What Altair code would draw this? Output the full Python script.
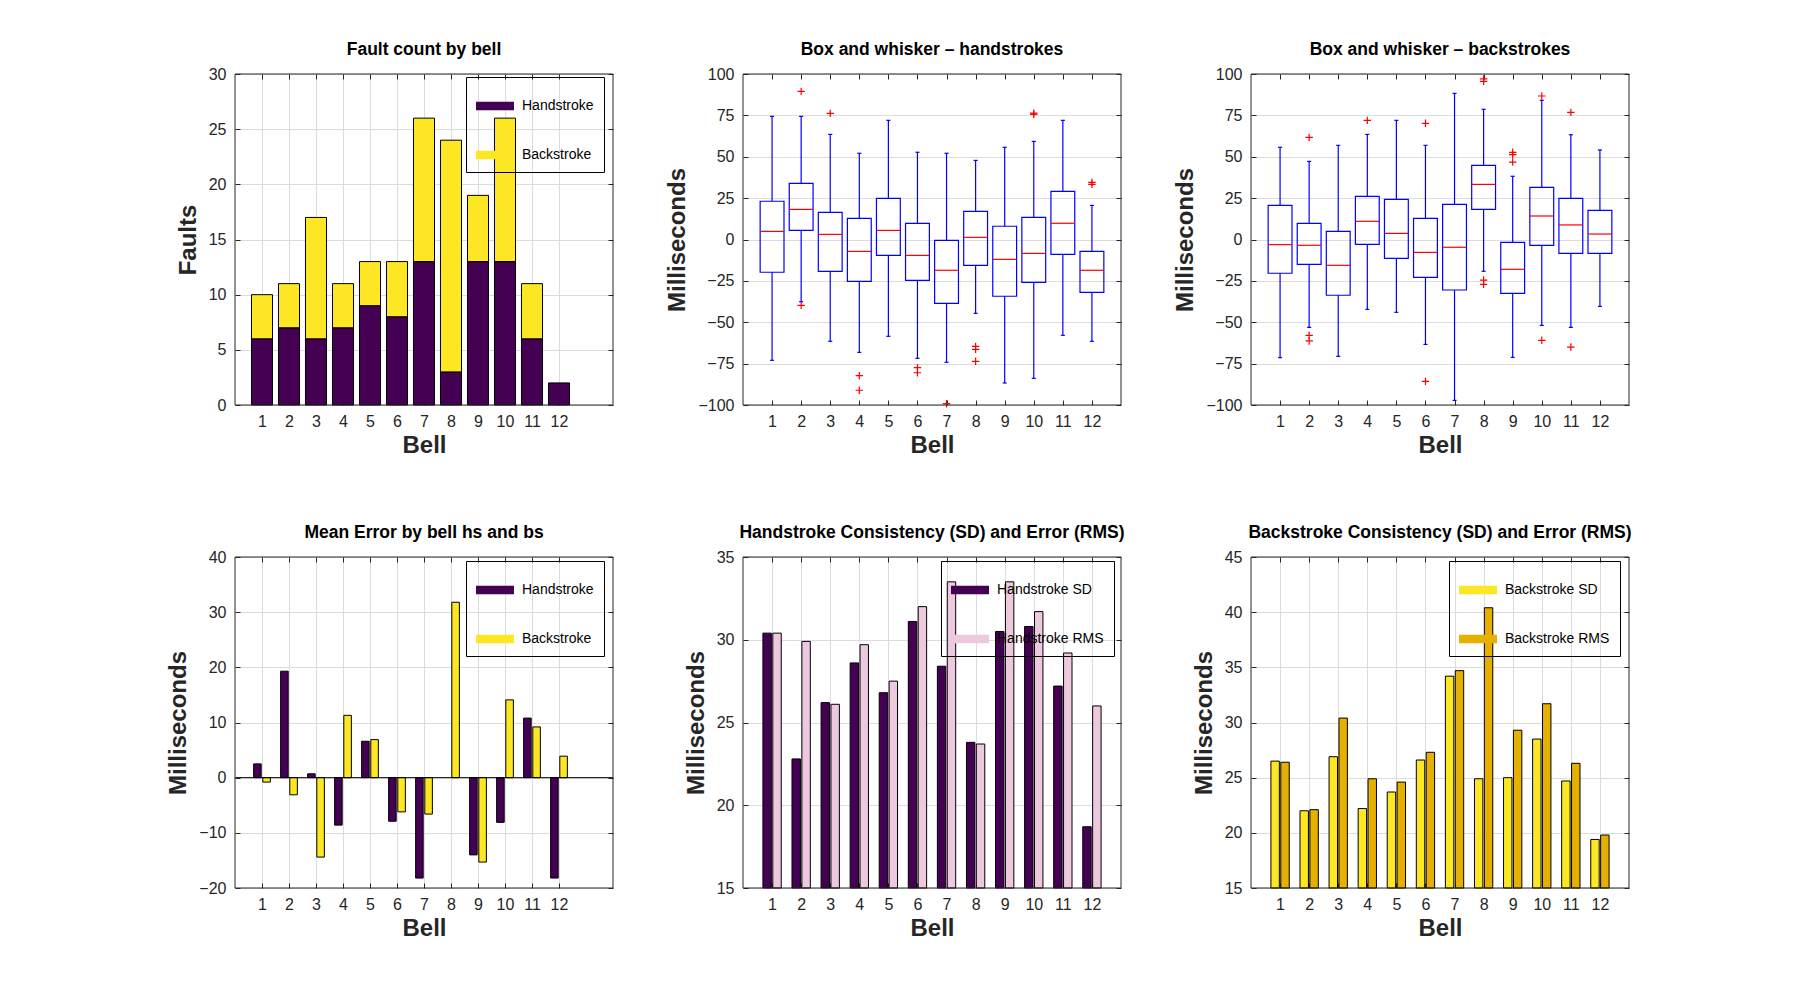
import altair as alt
import pandas as pd

FONT = "Liberation Sans"
INK = "#262626"
GRID = "#dcdcdc"
PURPLE = "#440154"
YELLOW = "#FDE725"
PINK = "#EDC9E0"
GOLD = "#E6B000"
BLUE = "#0000FF"
RED = "#FF0000"
W, H = 378, 331
SWATCH = "M-1,-0.22H1V0.22H-1Z"
CROSS = "M-1,0H1M0,-1V1"
NBSP = "\u00a0"

# ---------------- data ----------------
bells = list(range(1, 13))
bell_ticks = list(range(1, 13))

fault_hand = [6, 7, 6, 7, 9, 8, 13, 3, 13, 13, 6, 2]
fault_back = [4, 4, 11, 4, 4, 5, 13, 21, 6, 13, 5, 0]

hs_lo = [-73.0, -37.6, -61.5, -68.2, -58.5, -71.8, -74.2, -44.6, -86.7, -83.9, -57.9, -61.5]
hs_q1 = [-19.8, 5.5, -19.2, -25.3, -9.6, -24.7, -38.6, -15.6, -34.3, -25.9, -9.0, -31.9]
hs_med = [4.9, 18.2, 3.1, -7.2, 5.5, -9.6, -18.6, 1.3, -12.0, -8.4, 9.8, -18.6]
hs_q3 = [23.1, 33.9, 16.4, 12.8, 24.9, 9.8, -0.5, 17.0, 8.0, 13.4, 29.1, -7.2]
hs_hi = [74.4, 74.4, 63.5, 52.1, 72.0, 52.7, 52.1, 47.8, 55.7, 59.3, 72.0, 20.6]
hs_out_bell = [2, 2, 3, 4, 4, 6, 6, 7, 8, 8, 8, 10, 10, 12, 12]
hs_out_val = [89.5, -39.8, 76.2, -82.3, -91.1, -77.4, -80.5, -99.2, -64.6, -66.4, -73.6, 75.6, 76.3, 34.5, 33.3]

bs_lo = [-71.4, -53.1, -70.6, -42.2, -44.0, -63.4, -97.2, -19.2, -71.2, -51.9, -53.1, -40.4]
bs_q1 = [-20.4, -15.0, -33.7, -2.9, -11.4, -22.9, -30.5, 18.2, -32.5, -3.5, -8.4, -8.4]
bs_med = [-3.1, -3.5, -15.6, 11.0, 3.7, -7.8, -4.7, 33.3, -18.0, 14.2, 8.8, 3.3]
bs_q3 = [20.6, 9.8, 4.9, 26.1, 24.3, 12.8, 21.2, 44.8, -1.7, 31.5, 24.9, 17.6]
bs_hi = [55.7, 47.2, 56.9, 63.5, 72.0, 56.9, 88.3, 78.7, 38.2, 84.1, 63.3, 54.1]
bs_out_bell = [2, 2, 2, 4, 6, 6, 8, 8, 8, 8, 9, 9, 9, 10, 10, 11, 11]
bs_out_val = [61.7, -57.9, -61.3, 72.0, 70.2, -85.7, 97.0, 95.6, -24.5, -27.1, 52.7, 51.3, 46.8, 86.7, -60.9, 76.8, -65.0]

hs_mean = [2.5, 19.3, 0.7, -8.6, 6.6, -7.9, -18.2, 0.0, -14.0, -8.1, 10.8, -18.2]
bs_mean = [-0.8, -3.1, -14.4, 11.3, 6.9, -6.2, -6.6, 31.8, -15.3, 14.1, 9.2, 3.9]

hs_sd = [30.4, 22.8, 26.2, 28.6, 26.8, 31.1, 28.4, 23.8, 30.5, 30.8, 27.2, 18.7]
hs_rms = [30.4, 29.9, 26.1, 29.7, 27.5, 32.0, 33.5, 23.7, 33.5, 31.7, 29.2, 26.0]
bs_sd = [26.5, 22.0, 26.9, 22.2, 23.7, 26.6, 34.2, 24.9, 25.0, 28.5, 24.7, 19.4]
bs_rms = [26.4, 22.1, 30.4, 24.9, 24.6, 27.3, 34.7, 40.4, 29.3, 31.7, 26.3, 19.8]

# ---------------- helpers ----------------
def sc(dom):
    return alt.Scale(domain=dom, nice=False, zero=False)


def xaxis(xt, grid):
    return alt.Axis(orient="bottom", values=xt, grid=grid, format="d", ticks=True, tickSize=5,
                    offset=-5, labelPadding=8, title="Bell", titlePadding=4)


def yaxis(yt, title):
    return alt.Axis(orient="left", values=yt, grid=True, ticks=True, tickSize=5, offset=-5,
                    labelPadding=9, title=title, titlePadding=8)


def legend(lx, ly, pad_spaces):
    return alt.Legend(orient="none", legendX=lx, legendY=ly, title=None, direction="vertical",
                      strokeColor="black", padding=10, rowPadding=23, symbolType=SWATCH,
                      symbolSize=1444, symbolStrokeWidth=0, labelFont=FONT, labelFontSize=14,
                      labelColor="black", labelOffset=8,
                      labelExpr="datum.label + '%s'" % (NBSP * pad_spaces))


def frame(xdom, ydom, xt, yt):
    top = alt.Axis(orient="top", values=xt, grid=False, labels=False, domain=False, ticks=True,
                   tickSize=5, offset=-5, title=None)
    right = alt.Axis(orient="right", values=yt, grid=False, labels=False, domain=False, ticks=True,
                     tickSize=5, offset=-5, title=None)
    return alt.Chart(pd.DataFrame({"a": [0]})).mark_rect(
        fill="white", fillOpacity=0, stroke=INK, strokeWidth=1
    ).encode(
        x=alt.XDatum(xdom[0], type="quantitative", scale=sc(xdom), axis=top),
        x2=alt.datum(xdom[1]),
        y=alt.YDatum(ydom[0], type="quantitative", scale=sc(ydom), axis=right),
        y2=alt.datum(ydom[1]),
    )


def panel(layers, xdom, ydom, xt, yt, title):
    inner = alt.layer(*layers)
    return alt.layer(inner, frame(xdom, ydom, xt, yt)).resolve_axis(
        x="independent", y="independent"
    ).properties(width=W, height=H, title=title)


def grouped(h_vals, b_vals, names, colors, ydom, yt, base, half, lx, ly, title, xdom, sp):
    rows = []
    for b, hv, bv in zip(bells, h_vals, b_vals):
        rows.append({"bell": b, "series": names[0], "value": hv, "side": -1})
        rows.append({"bell": b, "series": names[1], "value": bv, "side": 1})
    df = pd.DataFrame(rows)
    xa = xaxis(bell_ticks, True)
    ya = yaxis(yt, "Milliseconds")
    bars = alt.Chart(df).transform_filter("datum.value != 0").transform_calculate(
        xc="datum.bell + datum.side * 0.17"
    ).transform_calculate(
        xl="datum.xc - %f" % half
    ).transform_calculate(
        xr="datum.xc + %f" % half
    ).mark_rect(stroke="black", strokeWidth=1).encode(
        x=alt.X("xl", type="quantitative", scale=sc(xdom), axis=xa),
        x2=alt.X2("xr"),
        y=alt.Y("value", type="quantitative", scale=sc(ydom), axis=ya),
        y2=alt.datum(base),
        color=alt.Color("series", type="nominal", scale=alt.Scale(domain=names, range=colors),
                        legend=legend(lx, ly, sp)),
    )
    layers = [bars]
    if base == 0:
        zero = alt.Chart(pd.DataFrame({"a": [0]})).mark_rule(color="black", strokeWidth=1).encode(
            y=alt.YDatum(0, type="quantitative", scale=sc(ydom), axis=ya)
        )
        layers.append(zero)
    return panel(layers, xdom, ydom, bell_ticks, yt, title)


def boxpanel(lo, q1, med, q3, hi, ob, ov, title):
    xdom = [0, 13]
    ydom = [-100, 100]
    yt = list(range(-100, 101, 25))
    xa = xaxis(bell_ticks, False)
    ya = yaxis(yt, "Milliseconds")
    df = pd.DataFrame({"bell": bells, "lo": lo, "q1": q1, "med": med, "q3": q3, "hi": hi})
    dfo = pd.DataFrame({"bell": ob, "val": ov})
    base = alt.Chart(df)
    X = lambda f: alt.X(f, type="quantitative", scale=sc(xdom), axis=xa)
    Y = lambda f: alt.Y(f, type="quantitative", scale=sc(ydom), axis=ya)
    up = base.mark_rule(color=BLUE, strokeWidth=1.2).encode(x=X("bell"), y=Y("q3"), y2=alt.Y2("hi"))
    dn = base.mark_rule(color=BLUE, strokeWidth=1.2).encode(x=X("bell"), y=Y("lo"), y2=alt.Y2("q1"))
    caps = base.transform_fold(["lo", "hi"], as_=["k", "v"]).transform_calculate(
        cl="datum.bell - 0.07"
    ).transform_calculate(cr="datum.bell + 0.07").mark_rule(color=BLUE, strokeWidth=1.2).encode(
        x=X("cl"), x2=alt.X2("cr"), y=Y("v")
    )
    boxes = base.transform_calculate(bl="datum.bell - 0.41").transform_calculate(
        br="datum.bell + 0.41"
    )
    box = boxes.mark_rect(fill="white", fillOpacity=0, stroke=BLUE, strokeWidth=1.2).encode(
        x=X("bl"), x2=alt.X2("br"), y=Y("q1"), y2=alt.Y2("q3")
    )
    md = boxes.mark_rule(color=RED, strokeWidth=1.2).encode(x=X("bl"), x2=alt.X2("br"), y=Y("med"))
    outs = alt.Chart(dfo).mark_point(shape=CROSS, size=55, color=RED, strokeWidth=1.2,
                                     filled=False, opacity=1).encode(x=X("bell"), y=Y("val"))
    return panel([up, dn, caps, box, md, outs], xdom, ydom, bell_ticks, yt, title)


# ---------------- panel 1: stacked faults ----------------
rows = []
for b, hv, bv in zip(bells, fault_hand, fault_back):
    rows.append({"bell": b, "series": "Handstroke", "lo": 0, "hi": hv})
    rows.append({"bell": b, "series": "Backstroke", "lo": hv, "hi": hv + bv})
df1 = pd.DataFrame(rows)
x1dom, y1dom = [0, 14], [0, 30]
y1t = list(range(0, 31, 5))
p1bars = alt.Chart(df1).transform_filter("datum.hi > datum.lo").transform_calculate(
    xl="datum.bell - 0.39"
).transform_calculate(xr="datum.bell + 0.39").mark_rect(stroke="black", strokeWidth=1).encode(
    x=alt.X("xl", type="quantitative", scale=sc(x1dom), axis=xaxis(bell_ticks, True)),
    x2=alt.X2("xr"),
    y=alt.Y("lo", type="quantitative", scale=sc(y1dom), axis=yaxis(y1t, "Faults")),
    y2=alt.Y2("hi"),
    color=alt.Color("series", type="nominal",
                    scale=alt.Scale(domain=["Handstroke", "Backstroke"], range=[PURPLE, YELLOW]),
                    legend=legend(231, 3, 2)),
)
p1 = panel([p1bars], x1dom, y1dom, bell_ticks, y1t, "Fault count by bell")

p2 = boxpanel(hs_lo, hs_q1, hs_med, hs_q3, hs_hi, hs_out_bell, hs_out_val,
              "Box and whisker – handstrokes")
p3 = boxpanel(bs_lo, bs_q1, bs_med, bs_q3, bs_hi, bs_out_bell, bs_out_val,
              "Box and whisker – backstrokes")

p4 = grouped(hs_mean, bs_mean, ["Handstroke", "Backstroke"], [PURPLE, YELLOW], [-20, 40],
             list(range(-20, 41, 10)), 0, 0.14, 231, 4, "Mean Error by bell hs and bs", [0, 14], 1)
p5 = grouped(hs_sd, hs_rms, ["Handstroke SD", "Handstroke RMS"], [PURPLE, PINK], [15, 35],
             list(range(15, 36, 5)), 15, 0.145, 198, 4,
             "Handstroke Consistency (SD) and Error (RMS)", [0, 13], 1)
p6 = grouped(bs_sd, bs_rms, ["Backstroke SD", "Backstroke RMS"], [YELLOW, GOLD], [15, 45],
             list(range(15, 46, 5)), 15, 0.145, 198, 4,
             "Backstroke Consistency (SD) and Error (RMS)", [0, 13], 1)

chart = alt.concat(
    p1, p2, p3, p4, p5, p6, columns=3, spacing={"row": 152, "column": 130}, bounds="flush"
).resolve_scale(
    color="independent"
).properties(
    padding={"left": 158, "top": 32, "right": 5, "bottom": 5},
    background="white",
).configure_axis(
    labelFont=FONT, labelFontSize=16, labelColor=INK, titleFont=FONT, titleFontSize=24,
    titleFontWeight="bold", titleColor=INK, tickColor=INK, tickWidth=1, gridColor=GRID,
    gridWidth=1, domain=False, labelFlush=False, labelOverlap=False,
).configure_title(
    font=FONT, fontSize=17.5, fontWeight="bold", color="black", anchor="middle", frame="group",
    offset=8,
).configure_view(stroke="transparent")

chart.save("out.html", embed_options={"renderer": "svg", "actions": False})
